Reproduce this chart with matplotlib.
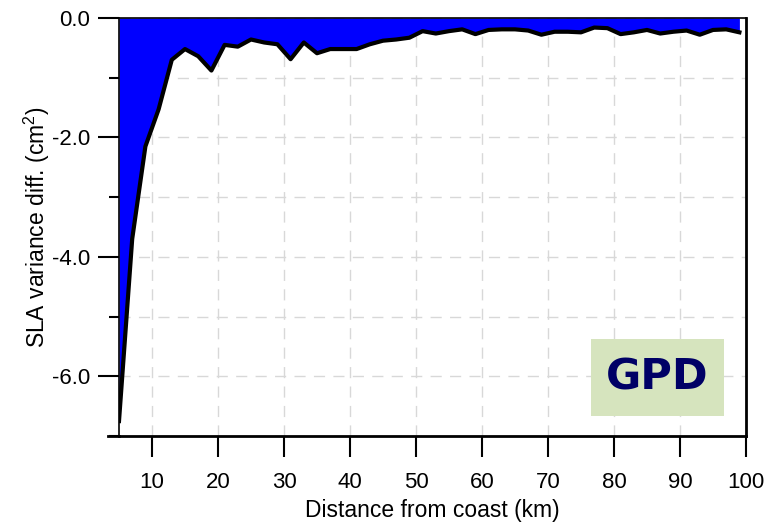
import matplotlib
matplotlib.use("Agg")
import matplotlib.pyplot as plt
from matplotlib.ticker import MultipleLocator

distance_km = [5, 7, 9, 11, 13, 15, 17, 19, 21, 23, 25, 27, 29, 31, 33, 35, 37, 39,
               41, 43, 45, 47, 49, 51, 53, 55, 57, 59, 61, 63, 65, 67, 69, 71, 73, 75,
               77, 79, 81, 83, 85, 87, 89, 91, 93, 95, 97, 99]
variance_diff = [-6.75, -3.7, -2.15, -1.53, -0.70, -0.52, -0.64, -0.88, -0.45, -0.48,
                 -0.36, -0.41, -0.44, -0.69, -0.41, -0.59, -0.52, -0.52, -0.52, -0.44,
                 -0.38, -0.36, -0.33, -0.22, -0.26, -0.22, -0.19, -0.27, -0.20, -0.19,
                 -0.19, -0.21, -0.28, -0.23, -0.23, -0.24, -0.16, -0.17, -0.27, -0.24,
                 -0.20, -0.26, -0.23, -0.21, -0.28, -0.20, -0.19, -0.24]
x_ticks = [10, 20, 30, 40, 50, 60, 70, 80, 90, 100]
y_ticks = [-6.0, -4.0, -2.0, 0.0]
label_text = "GPD"

plt.rcParams['font.family'] = ['Liberation Sans', 'DejaVu Sans']
plt.rcParams['mathtext.fontset'] = 'custom'
plt.rcParams['mathtext.rm'] = 'Liberation Sans'

fig = plt.figure(figsize=(7.65, 5.23), dpi=100)
ax = fig.add_axes([119/765, 87/523, (746-119)/765, (436-18)/523])

ax.fill_between(distance_km, variance_diff, 0, color='#0000FF', lw=0, zorder=2)
ax.plot(distance_km, variance_diff, color='black', lw=3, zorder=3, solid_joinstyle='round')

ax.set_xlim(5, 100)
ax.set_ylim(-7.0, 0.0)
ax.set_xticks(x_ticks)
ax.set_yticks(y_ticks)
ax.set_yticklabels([f"{v:.1f}" for v in y_ticks])
ax.yaxis.set_minor_locator(MultipleLocator(1.0))

ax.grid(True, which='both', color='#d8d8d8', linestyle=(0, (8, 6)), lw=1, zorder=0)
ax.set_axisbelow(True)

ax.tick_params(axis='x', which='major', direction='out', length=15, width=1.5, labelsize=16, pad=11)
ax.tick_params(axis='y', which='major', direction='out', length=15, width=1.5, labelsize=16, pad=6)
ax.tick_params(axis='y', which='minor', direction='out', length=7, width=1.5)
ax.tick_params(axis='x', which='minor', length=0)

for s in ['bottom', 'right']:
    ax.spines[s].set_linewidth(2)
ax.spines['top'].set_linewidth(1.2)
ax.spines['left'].set_linewidth(1.2)

# bottom axis line extends a little past the left edge
ax.plot([-11/627, 0], [0, 0], transform=ax.transAxes, color='black', lw=2, clip_on=False)

ax.set_xlabel("Distance from coast (km)", fontsize=16.5, labelpad=4)
ax.set_ylabel("SLA variance diff. (cm$^{2}$)", fontsize=16.5, labelpad=0)

fig.patches.append(plt.Rectangle((591/765, (523-416)/523), 133/765, 77/523,
                                 transform=fig.transFigure, facecolor='#D6E4BE',
                                 edgecolor='none', zorder=5))
fig.text(657/765, (523-378)/523, label_text, fontsize=31, fontweight='bold',
         color='#000066', ha='center', va='center', family='DejaVu Sans', zorder=6)

fig.savefig("out.png", dpi=100)
